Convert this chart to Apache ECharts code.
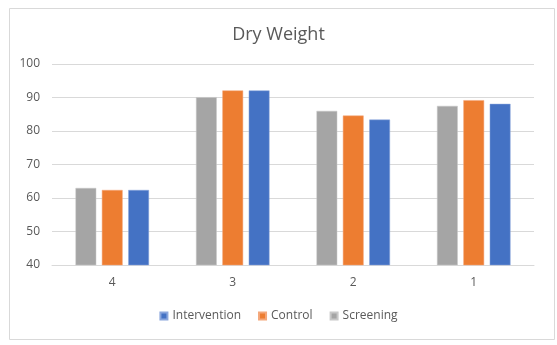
<!DOCTYPE html>
<html>
<head>
<meta charset="utf-8">
<script src="https://cdn.jsdelivr.net/npm/echarts@6/dist/echarts.min.js"></script>
<style>html,body{margin:0;padding:0;background:#fff;}#c{width:557px;height:345px;}</style>
</head>
<body>
<div id="c"></div>
<script>
var categories = ['4', '3', '2', '1'];
var screening = [63.0, 90.1, 86.0, 87.5];
var control = [62.4, 92.1, 84.6, 89.2];
var intervention = [62.4, 92.1, 83.4, 88.1];
var yTicks = [40, 50, 60, 70, 80, 90, 100];

var chart = echarts.init(document.getElementById('c'), null, {renderer: 'canvas'});
var font = 'Open Sans, Liberation Sans, sans-serif';
chart.setOption({
  animation: false,
  backgroundColor: '#fff',
  graphic: [{
    type: 'rect', left: 7, top: 6, shape: {width: 545, height: 331},
    style: {fill: 'none', stroke: '#d9d9d9', lineWidth: 1}, silent: true
  }],
  title: {
    text: 'Dry Weight', left: 'center', top: 21,
    textStyle: {fontFamily: font, fontSize: 18, fontWeight: 'normal', color: '#595959'}
  },
  legend: {
    data: ['Intervention', 'Control', 'Screening'],
    bottom: 18, left: 'center',
    icon: 'rect', itemWidth: 7, itemHeight: 7, itemGap: 17,
    textStyle: {fontFamily: font, fontSize: 12, color: '#595959'}
  },
  grid: {left: 52, right: 23, top: 64, bottom: 80, containLabel: false},
  xAxis: {
    type: 'category', data: categories,
    axisLine: {lineStyle: {color: '#d9d9d9'}},
    axisTick: {show: false},
    axisLabel: {fontFamily: font, fontSize: 12, color: '#595959', margin: 12}
  },
  yAxis: {
    type: 'value', min: yTicks[0], max: yTicks[yTicks.length - 1], interval: 10,
    axisLine: {show: false}, axisTick: {show: false},
    splitLine: {lineStyle: {color: '#d9d9d9'}},
    axisLabel: {fontFamily: font, fontSize: 12, color: '#595959', margin: 12}
  },
  series: [
    {name: 'Screening', type: 'bar', data: screening, barGap: '27%', barCategoryGap: '39%',
     itemStyle: {color: '#A5A5A5', borderColor: '#c8c8c8', borderWidth: 0.5}},
    {name: 'Control', type: 'bar', data: control, barGap: '27%', barCategoryGap: '39%',
     itemStyle: {color: '#ED7D31', borderColor: '#f4a77a', borderWidth: 0.5}},
    {name: 'Intervention', type: 'bar', data: intervention, barGap: '27%', barCategoryGap: '39%',
     itemStyle: {color: '#4472C4', borderColor: '#8aa6dc', borderWidth: 0.5}}
  ]
});
</script>
</body>
</html>
